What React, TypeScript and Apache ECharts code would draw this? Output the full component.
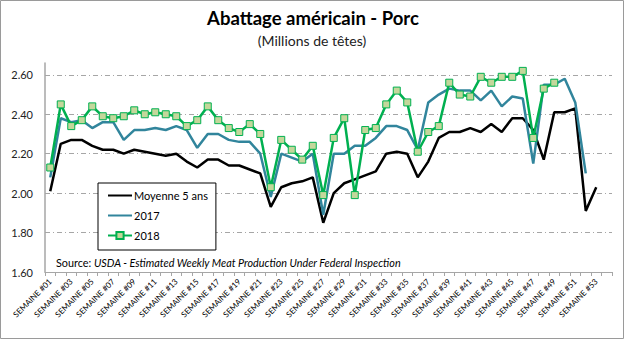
import React, { useEffect, useRef } from "react";
import * as echarts from "echarts";

const weeks = [
  "SEMAINE #01", "SEMAINE #02", "SEMAINE #03", "SEMAINE #04", "SEMAINE #05", "SEMAINE #06",
  "SEMAINE #07", "SEMAINE #08", "SEMAINE #09", "SEMAINE #10", "SEMAINE #11", "SEMAINE #12",
  "SEMAINE #13", "SEMAINE #14", "SEMAINE #15", "SEMAINE #16", "SEMAINE #17", "SEMAINE #18",
  "SEMAINE #19", "SEMAINE #20", "SEMAINE #21", "SEMAINE #22", "SEMAINE #23", "SEMAINE #24",
  "SEMAINE #25", "SEMAINE #26", "SEMAINE #27", "SEMAINE #28", "SEMAINE #29", "SEMAINE #30",
  "SEMAINE #31", "SEMAINE #32", "SEMAINE #33", "SEMAINE #34", "SEMAINE #35", "SEMAINE #36",
  "SEMAINE #37", "SEMAINE #38", "SEMAINE #39", "SEMAINE #40", "SEMAINE #41", "SEMAINE #42",
  "SEMAINE #43", "SEMAINE #44", "SEMAINE #45", "SEMAINE #46", "SEMAINE #47", "SEMAINE #48",
  "SEMAINE #49", "SEMAINE #50", "SEMAINE #51", "SEMAINE #52", "SEMAINE #53", "SEMAINE #54",
];

const moyenne5ans = [
  2.01, 2.25, 2.27, 2.27, 2.24, 2.22, 2.22, 2.20, 2.22, 2.21, 2.20, 2.19,
  2.20, 2.16, 2.13, 2.17, 2.17, 2.14, 2.14, 2.12, 2.10, 1.93, 2.03, 2.05,
  2.06, 2.08, 1.85, 2.00, 2.05, 2.07, 2.09, 2.11, 2.20, 2.21, 2.20, 2.08,
  2.16, 2.28, 2.31, 2.31, 2.33, 2.31, 2.35, 2.31, 2.38, 2.38, 2.32, 2.17,
  2.41, 2.41, 2.43, 1.91, 2.03,
];

const y2017 = [
  2.08, 2.38, 2.36, 2.37, 2.33, 2.36, 2.36, 2.27, 2.32, 2.32, 2.33, 2.32,
  2.34, 2.32, 2.23, 2.30, 2.30, 2.27, 2.26, 2.26, 2.20, 1.98, 2.20, 2.18,
  2.16, 2.20, 1.89, 2.20, 2.20, 2.24, 2.24, 2.28, 2.34, 2.34, 2.32, 2.22,
  2.46, 2.50, 2.53, 2.52, 2.52, 2.47, 2.52, 2.44, 2.49, 2.48, 2.15, 2.55,
  2.55, 2.58, 2.46, 2.10,
];

const y2018 = [
  2.13, 2.45, 2.34, 2.37, 2.44, 2.39, 2.38, 2.39, 2.42, 2.40, 2.41, 2.40,
  2.39, 2.34, 2.37, 2.44, 2.37, 2.33, 2.31, 2.35, 2.30, 2.03, 2.27, 2.22,
  2.17, 2.24, 1.99, 2.28, 2.38, 1.99, 2.32, 2.33, 2.45, 2.52, 2.46, 2.21,
  2.31, 2.34, 2.56, 2.50, 2.49, 2.59, 2.56, 2.59, 2.59, 2.62, 2.28, 2.53,
  2.56,
];

const FONT = "Lato, 'Open Sans', sans-serif";

export default function App() {
  const ref = useRef<HTMLDivElement>(null);
  useEffect(() => {
    if (!ref.current) return;
    const chart = echarts.init(ref.current, null, { renderer: "svg" });
    chart.setOption({
      animation: false,
      backgroundColor: "#fff",
      textStyle: { fontFamily: FONT },
      grid: { left: 45, right: 12, top: 63, bottom: 67, containLabel: false },
      graphic: [
        {
          type: "rect",
          shape: { x: 0.5, y: 0.5, width: 623, height: 338 },
          style: { fill: "none", stroke: "#9a9a9a", lineWidth: 1 },
          silent: true,
        },
        {
          type: "text",
          x: 313,
          y: 18,
          style: {
            text: "Abattage américain - Porc",
            fontFamily: FONT,
            fontSize: 18.5,
            fontWeight: "bold",
            fill: "#000",
            align: "center",
            verticalAlign: "middle",
          },
        },
        {
          type: "text",
          x: 312,
          y: 40,
          style: {
            text: "(Millions de têtes)",
            fontFamily: FONT,
            fontSize: 14,
            fill: "#222",
            align: "center",
            verticalAlign: "middle",
          },
        },
        {
          type: "text",
          x: 56,
          y: 262,
          z: 100,
          style: {
            text: "{a|Source: }{b|USDA - Estimated Weekly Meat Production Under Federal Inspection}",
            fontFamily: FONT,
            fontSize: 10.8,
            fill: "#000",
            verticalAlign: "middle",
            rich: {
              a: { fontFamily: FONT, fontSize: 10.8, fill: "#000" },
              b: { fontFamily: FONT, fontSize: 10.8, fontStyle: "italic", fill: "#000" },
            },
          },
        },
      ],
      legend: {
        orient: "vertical",
        left: 98,
        top: 183,
        backgroundColor: "#fff",
        borderColor: "#000",
        borderWidth: 1,
        padding: [7, 8, 9, 9],
        itemWidth: 24,
        itemHeight: 9,
        itemGap: 9,
        selectedMode: false,
        textStyle: { fontFamily: FONT, fontSize: 11, color: "#000", padding: [0, 0, 0, -3] },
        data: [
          { name: "Moyenne 5 ans", itemStyle: { color: "rgba(0,0,0,0)", borderWidth: 0 } },
          { name: "2017", itemStyle: { color: "rgba(0,0,0,0)", borderWidth: 0 } },
          { name: "2018" },
        ],
      },
      xAxis: {
        type: "category",
        data: weeks,
        boundaryGap: true,
        axisLine: { lineStyle: { color: "#a6a6a6", width: 1 } },
        axisTick: { show: true, interval: 0, length: 4, lineStyle: { color: "#a6a6a6" } },
        axisLabel: {
          interval: 1,
          rotate: 45,
          margin: 8,
          fontFamily: FONT,
          fontSize: 8,
          color: "#000",
        },
        splitLine: { show: false },
      },
      yAxis: {
        type: "value",
        min: 1.6,
        max: 2.66,
        interval: 0.2,
        axisLine: { show: true, lineStyle: { color: "#a6a6a6", width: 1.5 } },
        axisTick: { show: false },
        axisLabel: {
          margin: 12,
          showMaxLabel: false,
          fontFamily: FONT,
          fontSize: 11,
          color: "#222",
          formatter: (v: number) => v.toFixed(2),
        },
        splitLine: {
          show: true,
          showMaxLine: false,
          lineStyle: { color: "#a6a6a6", width: 1, type: [5, 3, 1, 3] },
        },
      },
      series: [
        {
          name: "Moyenne 5 ans",
          type: "line",
          data: moyenne5ans,
          symbol: "none",
          itemStyle: { color: "#000" },
          lineStyle: { color: "#000", width: 2.5 },
        },
        {
          name: "2017",
          type: "line",
          data: y2017,
          symbol: "none",
          itemStyle: { color: "#31859c" },
          lineStyle: { color: "#31859c", width: 2.5 },
        },
        {
          name: "2018",
          type: "line",
          data: y2018,
          symbol: "rect",
          symbolSize: 7,
          itemStyle: { color: "#c4d79b", borderColor: "#00b050", borderWidth: 1 },
          lineStyle: { color: "#00b050", width: 2.5 },
        },
      ],
    });
    return () => chart.dispose();
  }, []);
  return (
    <div
      ref={ref}
      style={{ position: "absolute", left: 0, top: 0, width: 624, height: 339 }}
    />
  );
}
